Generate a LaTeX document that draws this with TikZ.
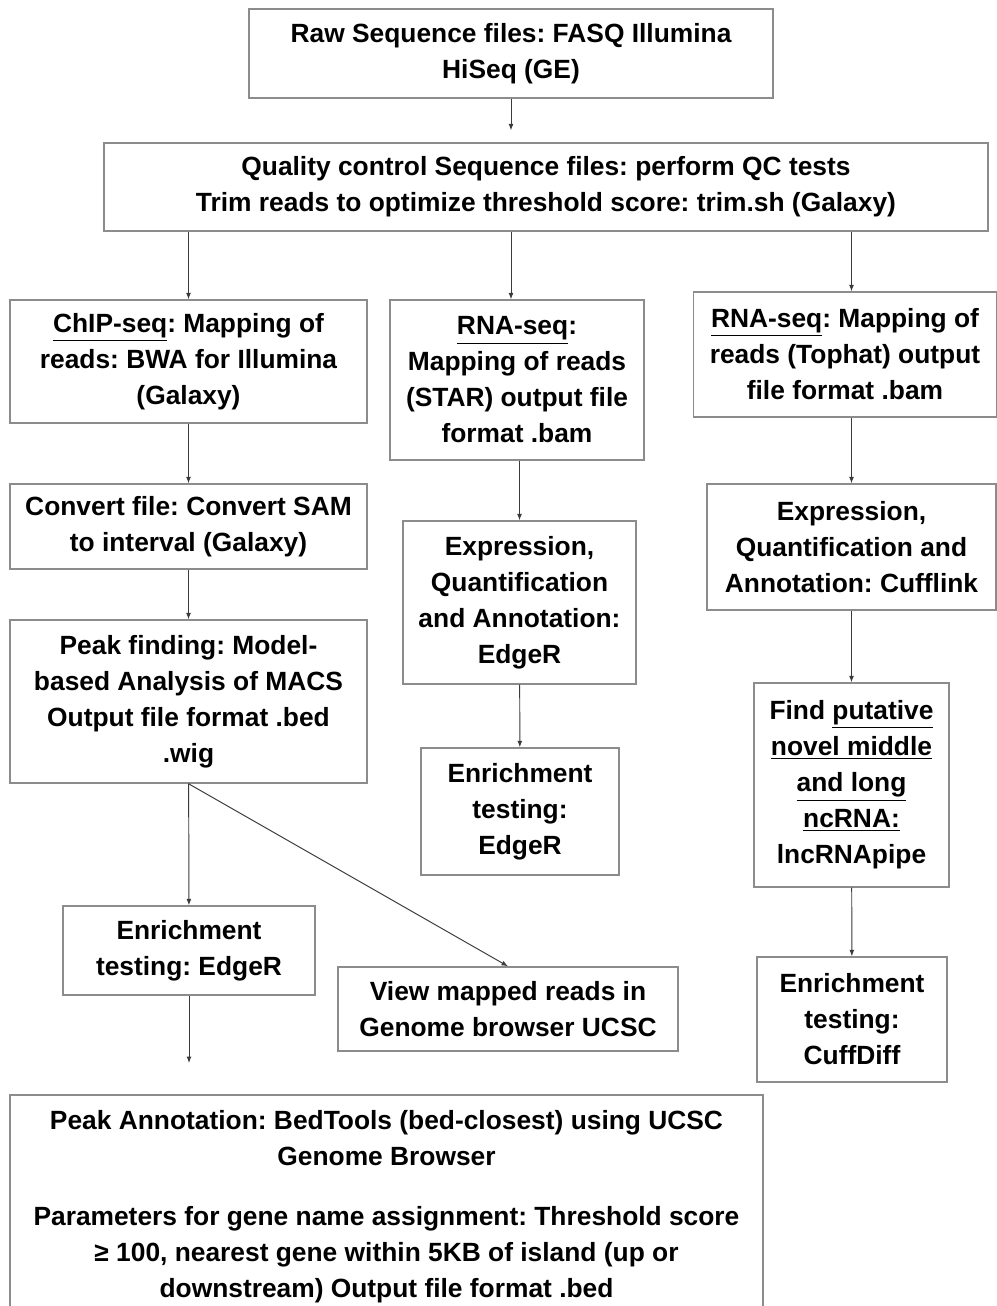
\documentclass[tikz,border=0pt]{standalone}
\usepackage{fontspec}
\setmainfont{Liberation Sans}
\usetikzlibrary{arrows.meta}
\definecolor{Frame}{HTML}{8C8C8C}
\definecolor{Wire}{HTML}{3A3A3A}
\frenchspacing

\begin{document}
\begin{tikzpicture}[x=0.02cm,y=-0.02cm,>={Latex[length=1.3mm,width=1mm]},
  box/.style={draw=Frame,line width=0.8pt,align=center,inner sep=2pt,font=\bfseries\fontsize{15}{20.5}\selectfont},
  wire/.style={->,draw=Wire,line width=0.55pt}]
\useasboundingbox (0,0) rectangle (997,1306);
% top of the pipeline
\node[box,minimum width=10.48cm,minimum height=1.78cm](raw) at (511,53.5){Raw Sequence files: FASQ Illumina\\HiSeq (GE)};
\node[box,minimum width=17.68cm,minimum height=1.76cm](qc) at (546,187){Quality control Sequence files: perform QC tests\\Trim reads to optimize threshold score: trim.sh (Galaxy)};
% ChIP-seq branch
\node[box,minimum width=7.14cm,minimum height=2.46cm](chip) at (188.5,361.5){\underline{ChIP-seq}: Mapping of\\reads: BWA for Illumina\\(Galaxy)};
\node[box,minimum width=7.14cm,minimum height=1.7cm](conv) at (188.5,526.5){Convert file: Convert SAM\\to interval (Galaxy)};
\node[box,minimum width=7.14cm,minimum height=3.26cm](peak) at (188.5,701.5){Peak finding: Model-\\based Analysis of MACS\\Output file format .bed\\.wig};
\node[box,minimum width=5.04cm,minimum height=1.78cm](enrl) at (189,950.5){Enrichment\\testing: EdgeR};
\node[box,minimum width=6.8cm,minimum height=1.68cm](view) at (508,1009){View mapped reads in\\Genome browser UCSC};
% RNA-seq (STAR) branch
\node[box,minimum width=5.08cm,minimum height=3.2cm](star) at (517,380){\underline{RNA-seq}:\\Mapping of reads\\(STAR) output file\\format .bam};
\node[box,minimum width=4.66cm,minimum height=3.26cm](expr) at (519.5,602.5){Expression,\\Quantification\\and Annotation:\\EdgeR};
\node[box,minimum width=3.96cm,minimum height=2.54cm](enrm) at (520,811.5){Enrichment\\testing:\\EdgeR};
% RNA-seq (Tophat) branch
\node[box,minimum width=6.06cm,minimum height=2.5cm](tophat) at (845,354.5){\underline{RNA-seq}: Mapping of\\reads (Tophat) output\\file format .bam};
\node[box,minimum width=5.78cm,minimum height=2.52cm](cuff) at (851.5,547){Expression,\\Quantification and\\Annotation: Cufflink};
\node[box,minimum width=3.9cm,minimum height=4.08cm](find) at (851.5,785){Find \underline{putative}\\\underline{novel middle}\\\underline{and long}\\\underline{ncRNA:}\\lncRNApipe};
\node[box,minimum width=3.8cm,minimum height=2.5cm](cdiff) at (852,1019.5){Enrichment\\testing:\\CuffDiff};
% annotation box, cut by the lower edge
\draw[draw=Frame,line width=0.8pt] (10,1095) rectangle (763,1330);
\node[box,draw=none](annot) at (386.5,1207){Peak Annotation: BedTools (bed-closest) using UCSC\\Genome Browser\\[0.48cm]Parameters for gene name assignment: Threshold score\\≥ 100, nearest gene within 5KB of island (up or\\downstream) Output file format .bed};
\coordinate (annotin) at (189,1063);
% connectors
\draw[wire,shorten >=2.4mm](raw)--(raw.south|-qc.north);
\draw[wire](qc.south-|chip)--(chip);
\draw[wire](qc.south-|raw)--(star.north-|raw);
\draw[wire](qc.south-|cuff)--(tophat.north-|cuff);
\draw[wire](chip)--(conv);\draw[wire](conv)--(peak);
\draw[wire](peak)--(enrl);\draw[wire](peak.south)--(view.north);
\draw[wire](enrl)--(annotin);
\draw[wire](star.south-|expr)--(expr);\draw[wire](expr)--(enrm);
\draw[wire](tophat.south-|cuff)--(cuff);\draw[wire](cuff)--(find);\draw[wire](find)--(cdiff);
\end{tikzpicture}
\end{document}
